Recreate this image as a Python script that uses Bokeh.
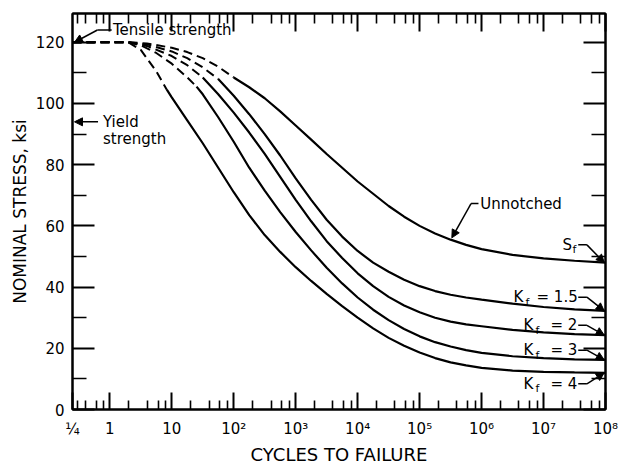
from bokeh.plotting import figure
from bokeh.models import (Range1d, LogAxis, LinearAxis, FixedTicker, Label,
                          Arrow, NormalHead)
from bokeh.embed import file_html
from bokeh.resources import INLINE

# ---- material strengths (ksi) ----
tensile_strength = 120
yield_strength = 94

# ---- S-N curves: log10(cycles) and nominal stress (ksi) ----
unnotched_log = [-0.602, 0.3, 0.6, 1.0, 1.25, 1.5, 1.75, 2.0, 2.25, 2.5, 2.75,
                 3.0, 3.25, 3.5, 3.75, 4.0, 4.25, 4.5, 4.75, 5.0, 5.25, 5.5,
                 5.75, 6.0, 6.5, 7.0, 7.5, 8.0]
unnotched_ksi = [120, 120, 119.6, 118.2, 116.8, 114.8, 112, 108.5, 105.3, 101.7,
                 97.4, 92.8, 88.2, 83.5, 79, 74.5, 70.5, 66.5, 63, 60, 57.5,
                 55.5, 53.8, 52.4, 50.5, 49.4, 48.6, 48]

kf15_log = [-0.602, 0.3, 0.6, 1.0, 1.25, 1.5, 1.75, 2.0, 2.25, 2.5, 2.75, 3.0,
            3.25, 3.5, 3.75, 4.0, 4.25, 4.5, 4.75, 5.0, 5.25, 5.5, 5.75, 6.0,
            6.5, 7.0, 7.5, 8.0]
kf15_ksi = [120, 120, 119.3, 117, 114.8, 111.8, 108, 102.5, 96.5, 90, 83, 75.5,
            68.5, 62, 56.5, 51.8, 48, 45, 42.4, 40.3, 38.7, 37.5, 36.6, 35.9,
            34.6, 33.5, 32.7, 32.2]

kf2_log = [-0.602, 0.3, 0.6, 1.0, 1.25, 1.5, 1.75, 2.0, 2.25, 2.5, 2.75, 3.0,
           3.25, 3.5, 3.75, 4.0, 4.25, 4.5, 4.75, 5.0, 5.25, 5.5, 5.75, 6.0,
           6.5, 7.0, 7.5, 8.0]
kf2_ksi = [120, 120, 118.8, 115.5, 112.5, 108.5, 103, 97, 90.5, 83.5, 76, 68.5,
           61.5, 55, 49.5, 44.5, 40.3, 36.8, 34, 31.8, 30, 28.7, 27.8, 27.2,
           26, 25.2, 24.6, 24.3]

kf3_log = [-0.602, 0.3, 0.5, 0.75, 1.0, 1.25, 1.4, 1.5, 1.75, 2.0, 2.25, 2.5,
           2.75, 3.0, 3.25, 3.5, 3.75, 4.0, 4.25, 4.5, 4.75, 5.0, 5.25, 5.5,
           5.75, 6.0, 6.5, 7.0, 7.5, 8.0]
kf3_ksi = [120, 120, 119, 116.5, 113, 108.5, 105.5, 103, 95.5, 87.5, 79, 71.5,
           64.5, 58, 52, 46.3, 41.2, 36.6, 32.6, 29.2, 26.3, 23.9, 22, 20.6,
           19.4, 18.5, 17.4, 16.8, 16.4, 16.2]

kf4_log = [-0.602, 0.3, 0.5, 0.75, 0.92, 1.0, 1.25, 1.5, 1.75, 2.0, 2.25, 2.5,
           2.75, 3.0, 3.25, 3.5, 3.75, 4.0, 4.25, 4.5, 4.75, 5.0, 5.25, 5.5,
           5.75, 6.0, 6.5, 7.0, 7.5, 8.0]
kf4_ksi = [120, 120, 117.5, 110.5, 104.5, 102, 94.5, 87, 79, 71, 63.5, 57,
           51.5, 46.5, 42, 37.8, 33.8, 30, 26.5, 23.4, 20.8, 18.6, 16.8, 15.4,
           14.4, 13.6, 12.7, 12.3, 12.1, 12.0]

# log10(cycles) where each curve turns from estimated (dashed) to solid
curves = [
    (unnotched_log, unnotched_ksi, 2.0),
    (kf15_log, kf15_ksi, 1.75),
    (kf2_log, kf2_ksi, 1.5),
    (kf3_log, kf3_ksi, 1.4),
    (kf4_log, kf4_ksi, 0.92),
]

# ---- axis ticks ----
x_major = [0.25, 1, 10, 1e2, 1e3, 1e4, 1e5, 1e6, 1e7, 1e8]
x_major_text = ["¼", "1", "10", "10²", "10³", "10⁴", "10⁵", "10⁶", "10⁷", "10⁸"]
x_minor = [0.3, 0.4, 0.6, 0.8] + [m * 10 ** k for k in range(0, 8) for m in (2, 4, 6, 8)]
y_major = [0, 20, 40, 60, 80, 100, 120]
y_minor = [10, 30, 50, 70, 90, 110]

FONT = "DejaVu Sans"
INK = "black"

p = figure(width=628, height=467, x_axis_type="log",
           x_range=Range1d(0.25, 1e8), y_range=Range1d(0, 129.4),
           output_backend="svg", toolbar_location=None,
           min_border_left=72, min_border_right=23,
           min_border_top=13, min_border_bottom=54)
p.grid.visible = False
p.outline_line_color = INK
p.outline_line_width = 2
p.background_fill_color = "white"
p.border_fill_color = "white"


def style_axis(ax, major_in, minor_in):
    ax.axis_line_color = INK
    ax.axis_line_width = 2
    ax.major_tick_line_color = INK
    ax.minor_tick_line_color = INK
    ax.major_tick_line_width = 2
    ax.minor_tick_line_width = 1.6
    ax.major_tick_out = 0
    ax.minor_tick_out = 0
    ax.major_tick_in = major_in
    ax.minor_tick_in = minor_in
    ax.major_label_text_font = FONT
    ax.major_label_text_color = INK
    ax.axis_label_text_font = FONT
    ax.axis_label_text_color = INK
    ax.axis_label_text_font_style = "normal"


def ticks_only(ax):
    ax.major_label_text_font_size = "1px"
    ax.major_label_text_color = None
    ax.major_label_standoff = 0


# bottom axis
xb = p.xaxis[0]
xb.ticker = FixedTicker(ticks=x_major, minor_ticks=x_minor)
xb.major_label_overrides = {t: s for t, s in zip(x_major, x_major_text)}
style_axis(xb, 17, 9)
xb.major_label_text_font_size = "15px"
xb.major_label_standoff = 10
xb.axis_label = "CYCLES TO FAILURE"
xb.axis_label_text_font_size = "18px"
xb.axis_label_standoff = 3

# left axis
yl = p.yaxis[0]
yl.ticker = FixedTicker(ticks=y_major, minor_ticks=y_minor)
style_axis(yl, 22, 14)
yl.major_label_text_font_size = "15px"
yl.major_label_standoff = 8
yl.axis_label = "NOMINAL STRESS, ksi"
yl.axis_label_text_font_size = "17px"
yl.axis_label_standoff = 3

# top and right axes: ticks only
xt = LogAxis(ticker=FixedTicker(ticks=x_major[1:], minor_ticks=x_minor))
style_axis(xt, 18, 10)
ticks_only(xt)
p.add_layout(xt, "above")

yr = LinearAxis(ticker=FixedTicker(ticks=y_major, minor_ticks=y_minor))
style_axis(yr, 22, 14)
ticks_only(yr)
p.add_layout(yr, "right")

# ---- curves ----
for lx, ks, split in curves:
    cyc = [10 ** v for v in lx]
    i = lx.index(split)
    p.line(cyc[:i + 1], ks[:i + 1], line_color=INK, line_width=2,
           line_dash="9 5")
    p.line(cyc[i:], ks[i:], line_color=INK, line_width=2.2)


def head():
    return NormalHead(size=8, fill_color=INK, line_color=INK, line_width=1)


def text(x, y, s, size="15px", dx=0, dy=0, align="left", style="normal"):
    p.add_layout(Label(x=x, y=y, text=s, x_offset=dx, y_offset=dy,
                       text_font=FONT, text_font_size=size,
                       text_color=INK, text_align=align,
                       text_baseline="middle", text_font_style=style))


# tensile strength callout
ts_y = tensile_strength + 4
text(10 ** 0.05, ts_y, "Tensile strength")
p.line([10 ** 0.03, 10 ** -0.2], [ts_y, ts_y], line_color=INK, line_width=1.5)
p.add_layout(Arrow(x_start=10 ** -0.2, y_start=ts_y,
                   x_end=10 ** -0.57, y_end=tensile_strength,
                   line_color=INK, line_width=1.5, end=head()))

# yield strength callout
p.add_layout(Arrow(x_start=10 ** -0.19, y_start=yield_strength,
                   x_end=10 ** -0.57, y_end=yield_strength,
                   line_color=INK, line_width=1.5, end=head()))
text(10 ** -0.11, yield_strength, "Yield")
text(10 ** -0.11, yield_strength, "strength", dy=-17)

# unnotched callout
tip_log = 5.5
tip_y = unnotched_ksi[unnotched_log.index(tip_log)]
text(10 ** (tip_log + 0.48), tip_y + 11.8, "Unnotched")
p.line([10 ** (tip_log + 0.45), 10 ** (tip_log + 0.33)],
       [tip_y + 11.8, tip_y + 11.8], line_color=INK, line_width=1.5)
p.add_layout(Arrow(x_start=10 ** (tip_log + 0.33), y_start=tip_y + 11.8,
                   x_end=10 ** (tip_log + 0.02), y_end=tip_y + 0.6,
                   line_color=INK, line_width=1.5, end=head()))

# endurance-limit labels at 10^8 cycles
end_labels = [
    # (main, value text, end stress, text rise in ksi, px offsets of main, f, rest)
    ("S", "", unnotched_ksi[-1], 5.8, (-43, -33, None)),
    ("K", "= 1.5", kf15_ksi[-1], 4.5, (-92, -80, -69)),
    ("K", "= 2", kf2_ksi[-1], 3.2, (-82, -70, -55)),
    ("K", "= 3", kf3_ksi[-1], 3.2, (-82, -70, -55)),
    ("K", "= 4", kf4_ksi[-1], -3.6, (-82, -70, -55)),
]
for main, rest, end_y, rise, (o_main, o_sub, o_rest) in end_labels:
    ty = end_y + rise
    text(1e8, ty, main, dx=o_main)
    text(1e8, ty, "f", "11px", dx=o_sub, dy=-5)
    if o_rest is not None:
        text(1e8, ty, rest, dx=o_rest)
    p.line([10 ** 7.56, 10 ** 7.7], [ty, ty], line_color=INK, line_width=1.5)
    p.add_layout(Arrow(x_start=10 ** 7.7, y_start=ty, x_end=10 ** 7.98,
                       y_end=end_y, line_color=INK, line_width=1.5,
                       end=head()))

open("out.html", "w").write(file_html(p, INLINE))
